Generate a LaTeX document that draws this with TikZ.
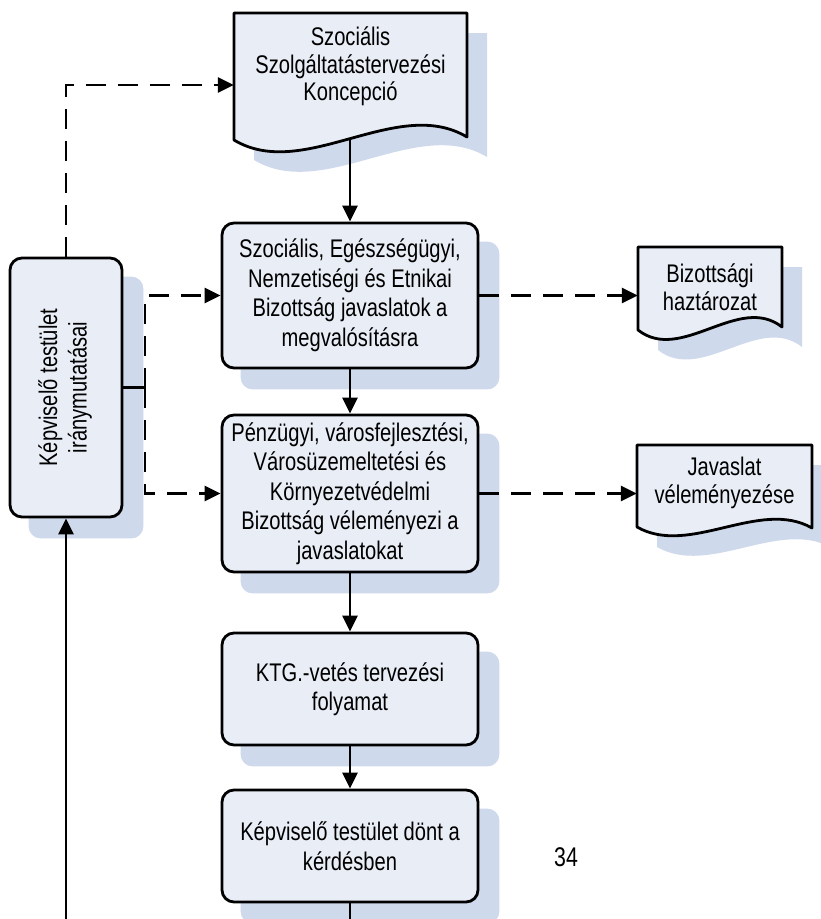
\documentclass[tikz,border=0pt]{standalone}
\usepackage{fontspec}
\usepackage{graphicx}
\setmainfont{Liberation Sans}[FakeStretch=0.79]
\usetikzlibrary{arrows.meta,calc}
\definecolor{boxfill}{RGB}{233,237,246}
\definecolor{shadowc}{RGB}{206,217,235}
\pgfdeclarelayer{bg}
\pgfdeclarelayer{mid}
\pgfsetlayers{bg,mid,main}
% #1 style, #2 left, #3 top, #4 right, #5 left bottom, #6 right bottom, #7 wave amplitude
\newcommand\docshape[7]{\path[#1] (#2,#3) -- (#4,#3) -- (#4,#6) .. controls ({#4-0.3*(#4-#2)},{#6-#7}) and ({#2+0.3*(#4-#2)},{#5+#7}) .. (#2,#5) -- cycle;}
\begin{document}
\begin{tikzpicture}[x=1pt,y=-1pt,
  box/.style={draw, line width=2.8pt, fill=boxfill, rounded corners=12pt, minimum width=256pt, inner sep=0pt, align=center, font=\fontsize{25.5}{29.5}\selectfont},
  doc/.style={inner sep=0pt, align=center, font=\fontsize{25.5}{27.5}\selectfont},
  conn/.style={line width=2.8pt, -{Triangle[length=16pt,width=15pt]}},
  dashline/.style={dash pattern=on 20pt off 12pt},
  docline/.style={draw, fill=boxfill, line width=2.8pt, line join=round},
  shadowfill/.style={fill=shadowc, shift={(20,20)}}
]
\useasboundingbox (0,0) rectangle (821,919);

% nodes
\node[doc, minimum width=233pt, minimum height=107pt] (kon) at (350.5,66.5) {Szociális\\Szolgáltatástervezési\\Koncepció};
\node[box, minimum height=145pt] (b2) at (350,295.5) {Szociális, Egészségügyi,\\Nemzetiségi és Etnikai\\Bizottság javaslatok a\\megvalósításra};
\node[box, minimum height=157pt] (b3) at (350,493.5) {Pénzügyi, városfejlesztési,\\Városüzemeltetési és\\Környezetvédelmi\\Bizottság véleményezi a\\javaslatokat};
\node[box, minimum height=112pt] (b4) at (350,689) {KTG.-vetés tervezési\\folyamat};
\node[box, minimum height=112pt] (b5) at (350,846) {Képviselő testület dönt a\\kérdésben};
\node[box, minimum width=112pt, minimum height=259pt] (lb) at (66,387.5) {\rotatebox{90}{\begin{tabular}{@{}c@{}}Képviselő testület\\iránymutatásai\end{tabular}}};
\node[doc, minimum width=144pt, minimum height=80pt] (biz) at (710,287) {Bizottsági\\haztározat};
\node[doc, minimum width=175pt, minimum height=76pt] (jav) at (724.5,483) {Javaslat\\véleményezése};
\node[font=\fontsize{27}{30}\selectfont, inner sep=0pt] (pg) at (566,857) {34};

% shadows
\begin{pgfonlayer}{bg}
\foreach \n in {b2,b3,b4,b5,lb}
  \fill[shadowc, rounded corners=12pt] ([shift={(20pt,-20pt)}]\n.north west) rectangle ([shift={(20pt,-20pt)}]\n.south east);
\docshape{shadowfill}{234}{13}{467}{140}{137}{42}
\docshape{shadowfill}{638}{247}{782}{330}{327}{34}
\docshape{shadowfill}{637}{445}{812}{527}{528}{30}
\end{pgfonlayer}

% document shapes
\begin{pgfonlayer}{mid}
\docshape{docline}{234}{13}{467}{140}{137}{42}
\docshape{docline}{638}{247}{782}{330}{327}{34}
\docshape{docline}{637}{445}{812}{527}{528}{30}
\end{pgfonlayer}

% connectors
\coordinate (kw) at (350,138.5);
\coordinate (b5end) at (350,919);
\coordinate (lbend) at (66,919);
\coordinate (jn) at (145,387.5);
\draw[conn] (kw) -- (b2.north);
\draw[conn] (b2.south) -- (b3.north);
\draw[conn] (b3.south) -- (b4.north);
\draw[conn] (b4.south) -- (b5.north);
\draw[line width=2.8pt] (b5.south) -- (b5end);
\draw[conn] (lbend) -- (lb.south);
\draw[conn, dashline] (lb.north) |- ([yshift=-18.5pt]kon.west);
\draw[line width=2.8pt] (lb.east) -- (jn);
\draw[conn, dashline] (jn) |- (b2.west);
\draw[conn, dashline] (jn) |- (b3.west);
\draw[conn, dashline] (b2.east) -- (b2.east -| biz.west);
\draw[conn, dashline] (b3.east) -- (b3.east -| jav.west);
\end{tikzpicture}
\end{document}
